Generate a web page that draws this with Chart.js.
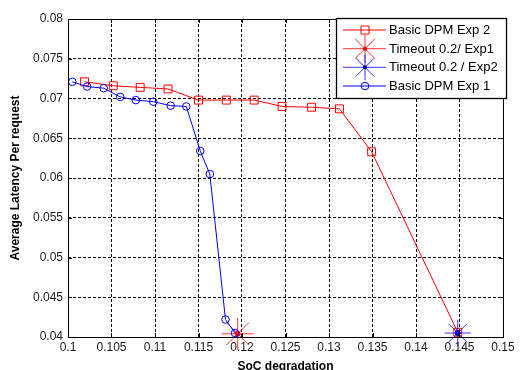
<!DOCTYPE html>
<html lang="en">
<head>
<meta charset="UTF-8">
<title>Average Latency vs SoC degradation</title>
<script src="https://cdn.jsdelivr.net/npm/chart.js"></script>
<style>
    body { margin: 0; padding: 0; background: #fff; }
    #wrap { width: 520px; height: 370px; }
</style>
</head>
<body>
<div id="wrap"><canvas id="chart" width="520" height="370"></canvas></div>
<script>
// values
const exp2X = [0.1019, 0.1052, 0.1083, 0.1115, 0.1150, 0.1182, 0.1214, 0.1246, 0.1280, 0.1312, 0.1349, 0.1448];
const exp2Y = [0.0721, 0.0716, 0.0714, 0.0712, 0.0698, 0.0698, 0.0698, 0.0690, 0.0689, 0.0687, 0.0633, 0.0406];
const exp1X = [0.1005, 0.1022, 0.1041, 0.1060, 0.1078, 0.1098, 0.1118, 0.1136, 0.1152, 0.1163, 0.1181, 0.1192];
const exp1Y = [0.0721, 0.0715, 0.0713, 0.0702, 0.0698, 0.0696, 0.0691, 0.0690, 0.0634, 0.0605, 0.0422, 0.0405];
const timeout1X = [0.1195];
const timeout1Y = [0.0404];
const timeout2X = [0.1448];
const timeout2Y = [0.0405];

const xTicks = [0.1, 0.105, 0.11, 0.115, 0.12, 0.125, 0.13, 0.135, 0.14, 0.145, 0.15];
const yTicks = [0.04, 0.045, 0.05, 0.055, 0.06, 0.065, 0.07, 0.075, 0.08];

const legendNames = ['Basic DPM Exp 2', 'Timeout 0.2/ Exp1', 'Timeout 0.2 / Exp2', 'Basic DPM Exp 1'];

const RED = '#ff0000';
const BLUE = '#0000ff';
const STAR_RED = 'rgba(255,0,0,0.8)';
const STAR_BLUE = 'rgba(0,0,255,0.8)';
const FONT = '"Liberation Sans", Arial, sans-serif';

function pts(xs, ys) {
    return xs.map((x, i) => ({ x: x, y: ys[i] }));
}

function fmt(v) {
    return String(+Number(v).toFixed(3));
}

// box, inward ticks and legend, the way matlab draws them
const framePlugin = {
    id: 'frame',
    afterDraw(chart) {
        const ctx = chart.ctx;
        const a = chart.chartArea;
        const xs = chart.scales.x, ys = chart.scales.y;
        ctx.save();
        ctx.strokeStyle = '#000';
        ctx.lineWidth = 1;
        ctx.strokeRect(Math.round(a.left) + 0.5, Math.round(a.top) + 0.5,
            Math.round(a.right - a.left), Math.round(a.bottom - a.top));

        ctx.beginPath();
        xTicks.forEach(v => {
            const px = Math.round(xs.getPixelForValue(v)) + 0.5;
            ctx.moveTo(px, a.bottom); ctx.lineTo(px, a.bottom - 4);
            ctx.moveTo(px, a.top); ctx.lineTo(px, a.top + 4);
        });
        yTicks.forEach(v => {
            const py = Math.round(ys.getPixelForValue(v)) + 0.5;
            ctx.moveTo(a.left, py); ctx.lineTo(a.left + 4, py);
            ctx.moveTo(a.right, py); ctx.lineTo(a.right - 4, py);
        });
        ctx.stroke();

        // legend
        const bx = 336.5, by = 18.5, bw = 170, bh = 80;
        ctx.fillStyle = '#fff';
        ctx.fillRect(bx, by, bw, bh);
        ctx.lineWidth = 1.3;
        ctx.strokeRect(bx, by, bw, bh);

        const rows = [30, 48.7, 67.3, 86];
        const lx0 = 343, lx1 = 386, mx = 365;
        const styles = [
            { color: RED, marker: 'rect', r: 4 },
            { color: STAR_RED, marker: 'star', r: 14, dot: '#e00000' },
            { color: STAR_BLUE, marker: 'star', r: 13, dot: '#0000a0' },
            { color: BLUE, marker: 'circle', r: 3.8 }
        ];
        styles.forEach((s, i) => {
            const y = rows[i];
            ctx.strokeStyle = s.color;
            ctx.lineWidth = 1;
            ctx.beginPath();
            ctx.moveTo(lx0, y); ctx.lineTo(lx1, y);
            if (s.marker === 'rect') {
                ctx.rect(mx - s.r, y - s.r, 2 * s.r, 2 * s.r);
            } else if (s.marker === 'circle') {
                ctx.moveTo(mx + s.r, y);
                ctx.arc(mx, y, s.r, 0, Math.PI * 2);
            } else {
                const d = s.r * Math.SQRT1_2;
                ctx.moveTo(mx, y - s.r); ctx.lineTo(mx, y + s.r);
                ctx.moveTo(mx - d, y - d); ctx.lineTo(mx + d, y + d);
                ctx.moveTo(mx - d, y + d); ctx.lineTo(mx + d, y - d);
            }
            ctx.stroke();
            if (s.dot) {
                ctx.fillStyle = s.dot;
                ctx.beginPath();
                ctx.arc(mx, y, 2, 0, Math.PI * 2);
                ctx.fill();
            }
        });
        ctx.fillStyle = '#000';
        ctx.font = '13px ' + FONT;
        ctx.textBaseline = 'middle';
        legendNames.forEach((t, i) => ctx.fillText(t, 389, rows[i] + 0.5));
        ctx.restore();
    }
};

const gridOpts = { color: '#000', drawTicks: false, lineWidth: 1 };
const borderOpts = { display: false, dash: [3, 2] };

const ctx = document.getElementById('chart').getContext('2d');
new Chart(ctx, {
    type: 'scatter',
    data: {
        datasets: [
            {
                label: legendNames[3],
                data: pts(exp1X, exp1Y),
                showLine: true,
                borderColor: BLUE,
                backgroundColor: 'rgba(0,0,0,0)',
                borderWidth: 1,
                pointStyle: 'circle',
                pointRadius: 3.8,
                pointBorderWidth: 1,
                clip: false
            },
            {
                label: legendNames[2],
                data: pts(timeout2X, timeout2Y),
                borderColor: STAR_BLUE,
                pointStyle: 'star',
                pointRadius: 13,
                pointBorderWidth: 1,
                clip: false
            },
            {
                label: legendNames[2] + ' dot',
                data: pts(timeout2X, timeout2Y),
                borderColor: '#000080',
                backgroundColor: '#000080',
                pointStyle: 'circle',
                pointRadius: 2.5,
                clip: false
            },
            {
                label: legendNames[1],
                data: pts(timeout1X, timeout1Y),
                borderColor: STAR_RED,
                pointStyle: 'star',
                pointRadius: 16,
                pointBorderWidth: 1,
                clip: false
            },
            {
                label: legendNames[1] + ' dot',
                data: pts(timeout1X, timeout1Y),
                borderColor: '#e00000',
                backgroundColor: '#e00000',
                pointStyle: 'circle',
                pointRadius: 2.5,
                clip: false
            },
            {
                label: legendNames[0],
                data: pts(exp2X, exp2Y),
                showLine: true,
                borderColor: RED,
                backgroundColor: 'rgba(0,0,0,0)',
                borderWidth: 1,
                pointStyle: 'rect',
                pointRadius: 5.6,
                pointBorderWidth: 1,
                clip: false
            }
        ]
    },
    options: {
        responsive: false,
        animation: false,
        events: [],
        layout: { padding: { left: 0, top: 19, right: 13, bottom: 0 } },
        plugins: {
            legend: { display: false },
            tooltip: { enabled: false }
        },
        scales: {
            x: {
                type: 'linear',
                min: 0.1,
                max: 0.15,
                afterBuildTicks: s => { s.ticks = xTicks.map(v => ({ value: v })); },
                afterFit: s => { s.height = 33; },
                grid: gridOpts,
                border: borderOpts,
                ticks: {
                    padding: 3,
                    color: '#1a1a1a',
                    font: { family: FONT, size: 12 },
                    maxRotation: 0,
                    autoSkip: false,
                    callback: v => fmt(v)
                },
                title: {
                    display: true,
                    text: 'SoC degradation',
                    color: '#000',
                    font: { family: FONT, size: 12, weight: 'bold', lineHeight: 1 },
                    padding: { top: 0, bottom: -3 }
                }
            },
            y: {
                type: 'linear',
                min: 0.04,
                max: 0.08,
                afterBuildTicks: s => { s.ticks = yTicks.map(v => ({ value: v })); },
                afterFit: s => { s.width = 68; },
                grid: gridOpts,
                border: borderOpts,
                ticks: {
                    padding: 5,
                    color: '#1a1a1a',
                    font: { family: FONT, size: 12 },
                    autoSkip: false,
                    callback: v => fmt(v)
                },
                title: {
                    display: true,
                    text: 'Average Latency Per request',
                    color: '#000',
                    font: { family: FONT, size: 12, weight: 'bold', lineHeight: 1.2 },
                    padding: { top: 8, bottom: 0 }
                }
            }
        }
    },
    plugins: [framePlugin]
});
</script>
</body>
</html>
